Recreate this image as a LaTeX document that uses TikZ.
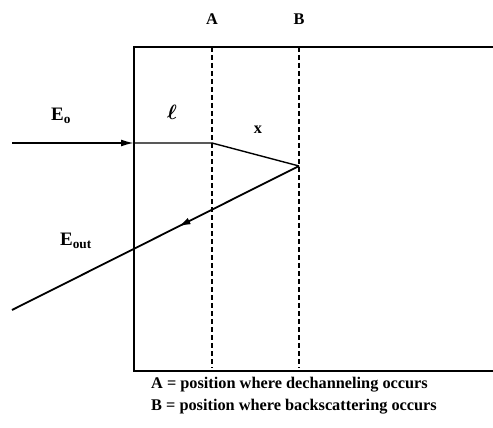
\documentclass[tikz,border=0pt]{standalone}
\usepackage{fontspec}
\setmainfont{Liberation Serif}
\usetikzlibrary{arrows.meta,calc,decorations.markings}

\begin{document}
\begin{tikzpicture}[
    x=1pt, y=-1pt,
    font=\bfseries,
    lbl/.style={inner sep=0pt, font=\fontsize{16.3}{19}\selectfont\bfseries},
    big/.style={inner sep=0pt, font=\fontsize{19}{22}\selectfont\bfseries},
    beam/.style={line width=1.8pt},
    marker/.style={dash pattern=on 5pt off 3pt, line width=1.4pt},
    >={Latex[length=13pt,width=7pt]},
    ]
\useasboundingbox (0,0) rectangle (493,428);

% ---- crystal ----
\draw[line width=1.2pt] (493,47) -- (134,47) -- (134,371) -- (493,371);
\coordinate (topA) at (212,47);
\coordinate (botA) at (212,368);
\coordinate (topB) at (299,47);
\coordinate (botB) at (299,368);
\draw[marker] (topA) -- (botA);
\draw[marker] (topB) -- (botB);
\node[lbl] (labA) at (212,19) {A};
\node[lbl] (labB) at (299,19) {B};

% ---- beam path ----
\coordinate (src) at (12,143);
\coordinate (entry) at (134,143);
\coordinate (dechan) at (212,143);
\coordinate (back) at (299,166);
\coordinate (exit) at (12,310);
\draw[beam, ->] (src) -- (entry);
\draw[line width=1.4pt] (entry) -- (dechan) -- (back);
\draw[beam, decoration={markings, mark=at position 0.42 with {\arrow{Latex[length=12pt,width=7pt]}}},
      postaction={decorate}] (back) -- (exit);

% ---- labels ----
\node[big] (eo) at (61,116) {E\textsubscript{o}};
\node[big, font=\fontsize{20}{22}\selectfont\boldmath] (ell) at (172,112) {$\ell$};
\node[lbl] (xl) at (258,130) {x};
\node[big] (eout) at (76,241) {E\textsubscript{out}};

% ---- legend ----
\node[lbl, anchor=west] (capA) at (151,385) {A = position where dechanneling occurs};
\node[lbl, anchor=west] (capB) at (151,407) {B = position where backscattering occurs};
\end{tikzpicture}
\end{document}
